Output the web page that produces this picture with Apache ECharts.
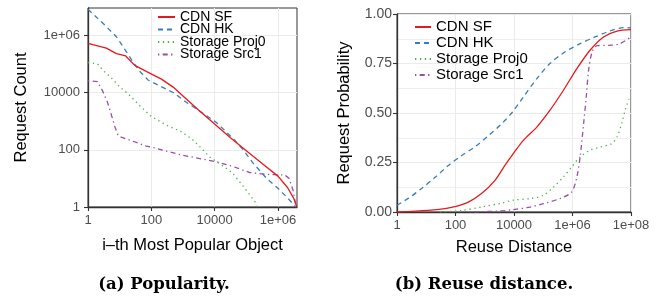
<!DOCTYPE html>
<html>
<head>
<meta charset="utf-8">
<script src="https://cdn.jsdelivr.net/npm/echarts@6/dist/echarts.min.js"></script>
<style>
html,body{margin:0;padding:0;background:#fff;}
#chart{width:661px;height:299px;}
</style>
</head>
<body>
<div id="chart"></div>
<script>
// ---- data ----
const seriesNames = ['CDN SF', 'CDN HK', 'Storage Proj0', 'Storage Src1'];

// (a) Popularity: [i-th most popular object, request count]
const popCdnSf = [[1,525000],[3.8,355000],[7.9,229000],[15.5,190000],[30,89000],[69,55000],[209,29500],[490,15500],[1000,7600],[3160,2400],[10000,794],[31600,263],[100000,93],[316000,33],[1000000,12],[2000000,4.8],[3160000,2],[3950000,1]];
const popCdnHk = [[1,8100000],[2.8,2800000],[7.9,891000],[15.8,282000],[26,120000],[45,52000],[79,27500],[186,17000],[490,10000],[1410,4200],[4270,1900],[11500,890],[38000,251],[79400,100],[162000,35],[437000,10],[1000000,4.5],[2090000,2],[3600000,1]];
const popProj0 = [[1,112000],[2,100000],[3.16,56000],[5.6,31600],[10,15800],[18,9300],[46,3240],[100,1450],[340,676],[830,447],[1900,240],[3700,117],[6900,56],[16200,30],[35500,16],[61700,7.6],[107000,3.5],[190000,1.5],[214000,1]];
const popSrc1 = [[1,25700],[2,24000],[2.8,12300],[4,5000],[5.2,2000],[7.1,630],[8.9,316],[11.2,275],[23,209],[69,135],[145,112],[282,91],[890,66],[3160,50],[11500,38],[38000,26],[129000,16],[437000,13.8],[1620000,13.2],[2240000,10],[3000000,3.9],[3600000,1.26]];

// (b) Reuse distance: [reuse distance, request probability]
const reuseCdnSf = [[1,0],[11.7,0.008],[44,0.017],[95,0.027],[275,0.05],[776,0.093],[2240,0.16],[4900,0.236],[10000,0.30],[20900,0.362],[60300,0.429],[170000,0.514],[490000,0.615],[1410000,0.724],[3980000,0.817],[11500000,0.884],[33100000,0.914],[100000000,0.921]];
const reuseCdnHk = [[1,0.034],[2.5,0.07],[7.1,0.12],[20,0.175],[57,0.235],[162,0.285],[468,0.33],[1320,0.385],[3800,0.446],[8900,0.505],[20900,0.581],[60300,0.674],[170000,0.75],[550000,0.808],[1820000,0.85],[5900000,0.884],[19000000,0.914],[55000000,0.931],[100000000,0.93]];
const reuseProj0 = [[30,0],[160,0.008],[776,0.025],[3800,0.045],[9500,0.06],[35500,0.068],[100000,0.084],[224000,0.126],[490000,0.177],[933000,0.227],[1820000,0.278],[3980000,0.312],[8700000,0.328],[21900000,0.345],[33100000,0.379],[47900000,0.446],[63000000,0.514],[85000000,0.57]];
const reuseSrc1 = [[300,0],[3160,0.005],[9500,0.012],[35500,0.025],[100000,0.042],[372000,0.068],[933000,0.101],[1410000,0.177],[1820000,0.278],[2400000,0.446],[2950000,0.581],[3550000,0.716],[4680000,0.808],[6900000,0.84],[19000000,0.842],[41700000,0.85],[90000000,0.88]];

const logTickLabels = {0: '1', 2: '100', 4: '10000', 6: '1e+06', 8: '1e+08'};
const popXTicks = [1, 100, 10000, 1000000];
const popYTicks = [1, 100, 10000, 1000000];
const reuseXTicks = [1, 100, 10000, 1000000, 100000000];

// ---- styles ----
const colors = ['#E41A1C', '#377EB8', '#4DAF4A', '#984EA3'];
const dashes = ['solid', [5, 4], [1.3, 3.6], [1.3, 3.4, 5, 3.4]];
const FONT = 'Liberation Sans, Arial, sans-serif';

function logFmt(v) {
  const l = Math.log10(v);
  const e = Math.round(l);
  if (Math.abs(l - e) > 0.01) return '';
  return logTickLabels[e] !== undefined ? logTickLabels[e] : '';
}

function axisCommon() {
  return {
    axisLine: {show: true, onZero: false, lineStyle: {color: '#333', width: 1.3}},
    axisTick: {show: true, length: 4, lineStyle: {color: '#333', width: 1.1}},
    splitLine: {show: true, lineStyle: {color: '#EBEBEB', width: 1}},
    axisLabel: {color: '#4D4D4D', fontSize: 13, fontFamily: FONT},
    nameTextStyle: {color: '#000', fontSize: 16.5, fontFamily: FONT},
    nameLocation: 'middle'
  };
}

const popData = [popCdnSf, popCdnHk, popProj0, popSrc1];
const reuseData = [reuseCdnSf, reuseCdnHk, reuseProj0, reuseSrc1];

const series = [];
seriesNames.forEach((n, i) => {
  series.push({
    name: n, type: 'line', xAxisIndex: 0, yAxisIndex: 0,
    data: popData[i], symbol: 'none', showSymbol: false, animation: false,
    lineStyle: {color: colors[i], width: 1.3, type: dashes[i]},
    itemStyle: {color: colors[i]}, z: 10 - i
  });
});
seriesNames.forEach((n, i) => {
  series.push({
    name: n, type: 'line', xAxisIndex: 1, yAxisIndex: 1,
    data: reuseData[i], symbol: 'none', showSymbol: false, animation: false, smooth: 0.3,
    lineStyle: {color: colors[i], width: 1.3, type: dashes[i]},
    itemStyle: {color: colors[i]}, z: 10 - i
  });
});

const chart = echarts.init(document.getElementById('chart'), null, {renderer: 'canvas'});
const option = {
  animation: false,
  backgroundColor: '#fff',
  grid: [
    {left: 88, top: 8, width: 209, height: 199, show: true, borderColor: '#333', borderWidth: 1, containLabel: false},
    {left: 397, top: 14, width: 234, height: 198, show: true, borderColor: '#333', borderWidth: 1, containLabel: false}
  ],
  xAxis: [
    Object.assign(axisCommon(), {
      type: 'log', gridIndex: 0, min: 1, max: 4000000, interval: 1,
      name: 'i\u2013th Most Popular Object', nameGap: 30,
      axisLabel: {color: '#4D4D4D', fontSize: 13, fontFamily: FONT, margin: 7, formatter: logFmt, customValues: popXTicks},
      axisTick: {show: true, length: 4, lineStyle: {color: '#333', width: 1.1}, customValues: popXTicks}
    }),
    Object.assign(axisCommon(), {
      type: 'log', gridIndex: 1, min: 1, max: 100000000, interval: 1,
      name: 'Reuse Distance', nameGap: 27,
      axisLabel: {color: '#4D4D4D', fontSize: 13, fontFamily: FONT, margin: 7, formatter: logFmt, customValues: reuseXTicks},
      axisTick: {show: true, length: 4, lineStyle: {color: '#333', width: 1.1}, customValues: reuseXTicks}
    })
  ],
  yAxis: [
    Object.assign(axisCommon(), {
      type: 'log', gridIndex: 0, min: 1, max: 9000000, interval: 1,
      name: 'Request Count', nameGap: 58,
      axisLabel: {color: '#4D4D4D', fontSize: 13, fontFamily: FONT, margin: 8, formatter: logFmt, customValues: popYTicks},
      axisTick: {show: true, length: 4, lineStyle: {color: '#333', width: 1.1}, customValues: popYTicks}
    }),
    Object.assign(axisCommon(), {
      type: 'value', gridIndex: 1, min: 0, max: 1, interval: 0.25,
      name: 'Request Probability', nameGap: 44,
      axisLabel: {color: '#4D4D4D', fontSize: 14, fontFamily: FONT, margin: 5, formatter: v => v.toFixed(2)},
      minorTick: {show: false, splitNumber: 2},
      minorSplitLine: {show: true, lineStyle: {color: '#EFEFEF', width: 1}}
    })
  ],
  legend: [
    {
      data: seriesNames, orient: 'vertical', left: 152, top: 5, selectedMode: false,
      itemWidth: 17, itemHeight: 10, itemGap: -1.5,
      itemStyle: {opacity: 0},
      textStyle: {color: '#000', fontSize: 14, fontFamily: FONT, lineHeight: 11.8}
    },
    {
      data: seriesNames, orient: 'vertical', left: 409, top: 14, selectedMode: false,
      itemWidth: 16, itemHeight: 12, itemGap: 0,
      itemStyle: {opacity: 0},
      textStyle: {color: '#000', fontSize: 15, fontFamily: FONT, lineHeight: 16}
    }
  ],
  graphic: [
    {type: 'text', x: 164, y: 285, style: {text: '(a) Popularity.', fill: '#000', font: 'bold 16.5px "DejaVu Serif", serif', textAlign: 'center', textVerticalAlign: 'middle'}},
    {type: 'text', x: 484, y: 285, style: {text: '(b) Reuse distance.', fill: '#000', font: 'bold 16.5px "DejaVu Serif", serif', textAlign: 'center', textVerticalAlign: 'middle'}}
  ],
  series: series
};
chart.setOption(option);
</script>
</body>
</html>
